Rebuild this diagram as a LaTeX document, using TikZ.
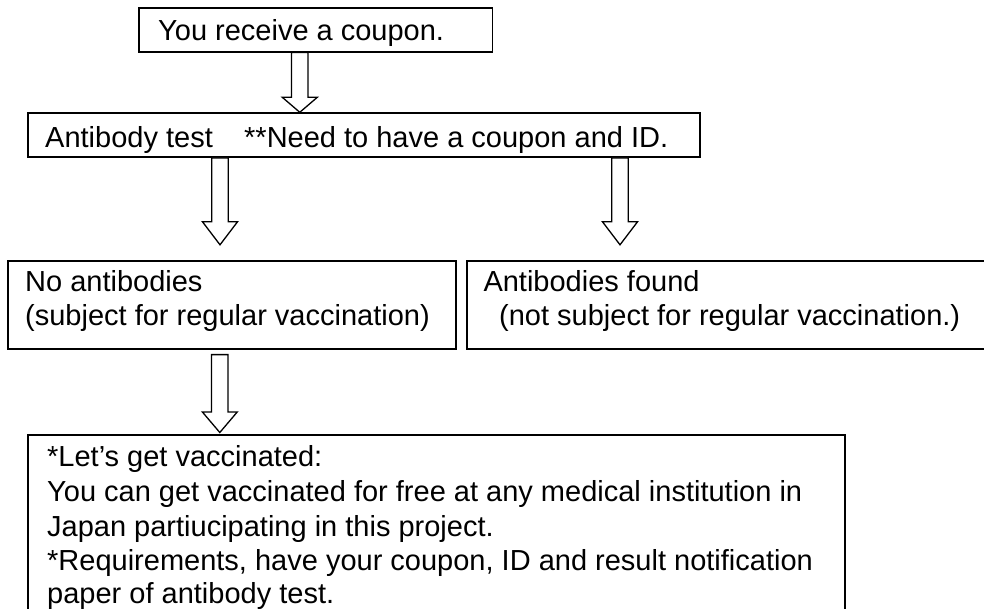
\documentclass[tikz,border=0pt]{standalone}
\usepackage{fontspec}
\setmainfont{Liberation Sans}
\usetikzlibrary{calc}
\tikzset{
  boxnode/.style={draw=black, line width=1.8pt, inner sep=0pt, anchor=north west},
  txt/.style={inner sep=0pt, anchor=base west, font=\fontsize{29}{34}\selectfont},
  arrowline/.style={draw=black, line width=1.3pt, fill=white, line join=miter}
}
\newcommand\blkarrow[3]{%
  \draw[arrowline] let \p1=(#1), \p2=(#2) in
   ({\x1-8.25pt},\y1) -- ({\x1-8.25pt},{\y2+#3}) -- ({\x1-17.5pt},{\y2+#3}) -- (\x2,\y2)
   -- ({\x1+17.5pt},{\y2+#3}) -- ({\x1+8.25pt},{\y2+#3}) -- ({\x1+8.25pt},\y1) -- cycle;}
\begin{document}
\begin{tikzpicture}[x=1pt,y=-1pt]
\useasboundingbox (0,0) rectangle (984,608);
\clip (0,0) rectangle (984,608);
\fill[white] (0,0) rectangle (984,608);
% boxes
\node[boxnode, minimum width=353.2pt, minimum height=43.7pt] (b1) at (138.4,7) {};
\node[boxnode, minimum width=672pt, minimum height=43.8pt] (b2) at (27.3,112.3) {};
\node[boxnode, minimum width=448.3pt, minimum height=87.8pt] (b3) at (6.7,260.3) {};
\node[boxnode, minimum width=560pt, minimum height=88pt] (b4) at (466,260.3) {};
\node[boxnode, minimum width=817pt, minimum height=200pt] (b5) at (27.3,434) {};
% texts
\node[txt] (t1) at (158,40.7) {You receive a coupon.};
\node[txt] (t2a) at (45,147) {Antibody test};
\node[txt] (t2b) at (244,147) {**Need to have a coupon and ID.};
\node[txt] (t3a) at (25,291.5) {No antibodies};
\node[txt] (t3b) at (25,325.5) {(subject for regular vaccination)};
\node[txt] (t4a) at (483.3,291) {Antibodies found};
\node[txt] (t4b) at (499,325.5) {(not subject for regular vaccination.)};
\node[txt] (t5a) at (47,466.5) {*Let’s get vaccinated:};
\node[txt] (t5b) at (47,501.5) {You can get vaccinated for free at any medical institution in};
\node[txt] (t5c) at (47,536.5) {Japan partiucipating in this project.};
\node[txt] (t5d) at (47,570) {*Requirements, have your coupon, ID and result notification};
\node[txt] (t5e) at (47,603.5) {paper of antibody test.};
% arrow axes
\coordinate (ax1) at (299.8,0);
\coordinate (ax2) at (220,0);
\coordinate (ax3) at (620,0);
\coordinate (ax4) at (219.8,0);
% arrows
\blkarrow{ax1 |- b1.south}{ax1 |- b2.north}{15pt}
\blkarrow{ax2 |- b2.south}{[yshift=15.5pt]ax2 |- b3.north}{23pt}
\blkarrow{ax3 |- b2.south}{[yshift=15.5pt]ax3 |- b4.north}{23pt}
\blkarrow{[yshift=-4.7pt]ax4 |- b3.south}{[yshift=1.5pt]ax4 |- b5.north}{20.6pt}
\end{tikzpicture}
\end{document}
